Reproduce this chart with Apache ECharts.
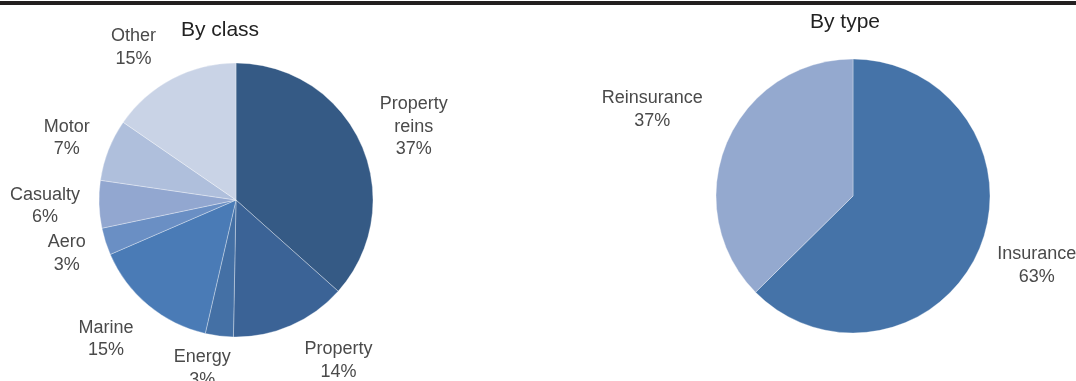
<!DOCTYPE html>
<html><head><meta charset="utf-8">
<script src="https://cdn.jsdelivr.net/npm/echarts@6/dist/echarts.min.js"></script>
<style>html,body{margin:0;padding:0;background:#fff}#c{width:1076px;height:381px}</style>
</head><body><div id="c"></div>
<script>
// ---- data ----
const classNames = ['Property\nreins', 'Property', 'Energy', 'Marine', 'Aero', 'Casualty', 'Motor', 'Other'];
const classValues = [36.6, 13.7, 3.3, 14.9, 3.2, 5.6, 7.3, 15.4];
const typeNames = ['Insurance', 'Reinsurance'];
const typeValues = [62.6, 37.4];
const titles = ['By class', 'By type'];

// ---- styles ----
const classColors = ['#355a85', '#3b6396', '#4470a5', '#4a7bb6', '#6a8fc4', '#92a7d0', '#afbfdc', '#c9d3e6'];
const typeColors = ['#4573a8', '#94a9cf'];
const classLabelNudge = [[8, 3], [28, -10], [-11, -16], [-11, -4], [8, -3], [-5, 0], [4, 6], [-16, 12]];
const typeLabelNudge = [[1, -7], [-18, -10]];
const FONT = '"Liberation Sans", Arial, sans-serif';

function pieSeries(names, values, colors, center, r) {
  return {
    type: 'pie', center: center, radius: r, startAngle: 90, clockwise: true,
    silent: true, animation: false,
    label: { show: false }, labelLine: { show: false },
    itemStyle: { borderColor: 'rgba(255,255,255,0.55)', borderWidth: 0.6 },
    data: names.map((n, i) => ({ name: n, value: values[i], itemStyle: { color: colors[i] } }))
  };
}
function labelRing(names, values, nudge, center, R) {
  return {
    type: 'pie', center: center, radius: [R - 2, R + 2], startAngle: 90, clockwise: true,
    silent: true, animation: false, z: 1,
    itemStyle: { color: 'rgba(0,0,0,0)', borderWidth: 0 },
    labelLine: { show: false },
    label: {
      show: true, position: 'inside', color: '#4a4a4a', fontFamily: FONT, fontSize: 18,
      lineHeight: 22.5, align: 'center',
      formatter: p => p.name + '\n' + Math.round(p.value) + '%'
    },
    data: names.map((n, i) => ({ name: n, value: values[i], label: { offset: nudge[i] } }))
  };
}

const chart = echarts.init(document.getElementById('c'), null, { renderer: 'canvas' });
chart.setOption({
  backgroundColor: '#fff',
  animation: false,
  title: [
    { text: titles[0], left: 220, top: 20, textAlign: 'center', padding: 0,
      textStyle: { fontFamily: FONT, fontSize: 21, fontWeight: 'normal', color: '#222' } },
    { text: titles[1], left: 845, top: 12, textAlign: 'center', padding: 0,
      textStyle: { fontFamily: FONT, fontSize: 21, fontWeight: 'normal', color: '#222' } }
  ],
  graphic: [
    { type: 'rect', left: 0, top: 1, shape: { x: 0, y: 0, width: 1076, height: 4 }, style: { fill: '#231f20' } }
  ],
  series: [
    pieSeries(classNames, classValues, classColors, [236, 200], 137),
    labelRing(classNames, classValues, classLabelNudge, [236, 200], 183),
    pieSeries(typeNames, typeValues, typeColors, [853, 196], 137),
    labelRing(typeNames, typeValues, typeLabelNudge, [853, 196], 195)
  ]
});
</script>
</body></html>
